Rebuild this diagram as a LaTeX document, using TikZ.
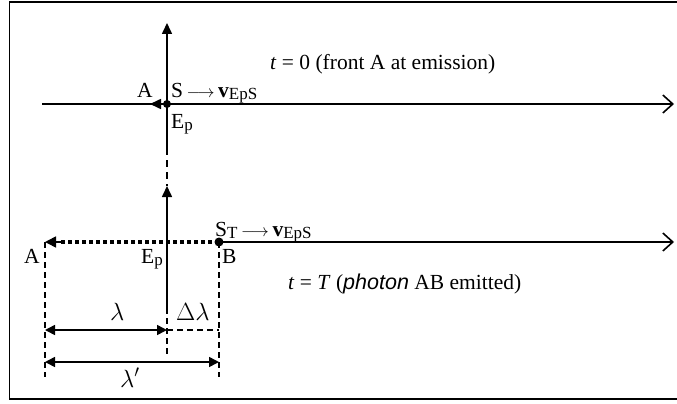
\documentclass[tikz,border=0pt]{standalone}
\usepackage{fontspec}
\setmainfont{Liberation Serif}
\newfontfamily\arialfont{Liberation Sans}
\usetikzlibrary{arrows.meta}
\newcommand{\subtxt}[1]{\raisebox{-0.28ex}{\fontsize{17}{18}\selectfont #1}}
\newcommand{\longarr}{{\fontsize{17}{18}\selectfont$\longrightarrow$}}
\begin{document}
\begin{tikzpicture}[x=1pt,y=-1pt,
  axis/.style={line width=1.6pt},
  openend/.style={-{Straight Barb[length=10pt,width=18pt,line width=1.6pt]}},
  filledend/.style={-{Triangle[length=11pt,width=10pt]}},
  dimarrow/.style={line width=1.6pt,{Triangle[length=10pt,width=10pt]}-{Triangle[length=10pt,width=10pt]}},
  guide/.style={line width=1.2pt,dash pattern=on 6pt off 4pt},
  photon/.style={line width=4pt,dash pattern=on 4pt off 3pt},
  lbl/.style={anchor=base west,inner sep=0pt,font=\fontsize{21.5}{23}\selectfont},
  greek/.style={anchor=base west,inner sep=0pt,font=\fontsize{24}{26}\selectfont},
  dot/.style={circle,fill=black,inner sep=0pt,minimum size=#1}
]
\useasboundingbox (0,0) rectangle (677,404);
% frame
\draw[line width=1.6pt] (690,2) -- (9.5,2) -- (9.5,399) -- (690,399);

% ---- t = 0 ----
\coordinate (L0) at (42,104);
\coordinate (R0) at (674,104);
\coordinate (V1top) at (167,23);
\coordinate (V1bot) at (167,148);
\coordinate (V2top) at (167,186);
\coordinate (V2bot) at (167,308);
\coordinate (Atip0) at (150,104);
\draw[axis,openend] (L0) -- (R0);
\draw[axis,filledend] (V1bot) -- (V1top);
\draw[line width=1.6pt,dash pattern=on 7pt off 5pt] (V1bot) -- (V2top);
\draw[axis,filledend] (V2bot) -- (V2top);
\node[dot=8pt] (S) at (167,104) {};
\draw[axis,filledend] (S.center) -- (Atip0);

\node[lbl] (A0) at (137,97) {A};
\node[lbl] (Slab) at (171,97) {S\,\longarr\,\textbf{v}\subtxt{EpS}};
\node[lbl] (Ep0) at (171,128) {E\subtxt{p}};
\node[lbl] (t0) at (270,70) {\textit{t} = 0 (front A at emission)};

% ---- t = T ----
\coordinate (A2) at (45,242);
\coordinate (R1) at (674,242);
\node[dot=9pt] (B) at (219,242) {};
\draw[axis,openend] (B.center) -- (R1);
\draw[photon] (B.center) -- (60,242);
\draw[line width=1.6pt,-{Triangle[length=11pt,width=11pt]}] (62,242) -- (A2);

\node[lbl] (ST) at (215,236) {S\subtxt{T}\,\longarr\,\textbf{v}\subtxt{EpS}};
\node[lbl] (A1) at (24,263) {A};
\node[lbl,anchor=base east] (Ep1) at (163,263) {E\subtxt{p}};
\node[lbl] (Blab) at (222,263) {B};
\node[lbl] (tT) at (288,289) {\textit{t} = \textit{T} ({\arialfont\itshape photon} AB emitted)};

% ---- dimensions ----
\coordinate (Ab) at (45,377);
\coordinate (Bb) at (219,377);
\coordinate (Eb1) at (167,308);
\coordinate (Eb2) at (167,356);
\draw[guide] (A2) -- (Ab);
\draw[guide] (B.center) -- (Bb);
\draw[guide] (Eb1) -- (Eb2);

\coordinate (lamL) at (45,330);
\coordinate (lamR) at (167,330);
\coordinate (dlR) at (219,330);
\draw[dimarrow] (lamL) -- (lamR);
\draw[guide] (lamR) -- (dlR);
\coordinate (lpL) at (45,362);
\coordinate (lpR) at (219,362);
\draw[dimarrow] (lpL) -- (lpR);

\node[greek] (lam) at (110,320) {$\lambda$};
\node[greek] (dlam) at (176,320) {$\Delta\lambda$};
\node[greek] (lamp) at (120,387) {$\lambda'$};
\end{tikzpicture}
\end{document}
